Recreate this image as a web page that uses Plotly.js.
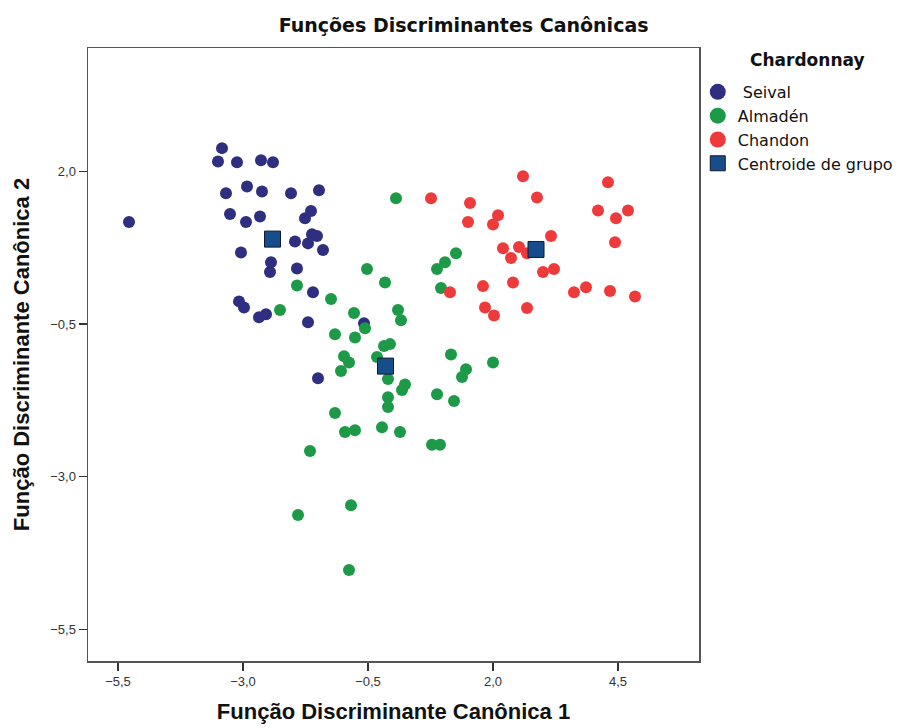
<!DOCTYPE html>
<html>
<head>
<meta charset="utf-8">
<script src="https://cdn.plot.ly/plotly-3.0.1.min.js"></script>
<style>html,body{margin:0;padding:0;background:#fff;}#chart{width:902px;height:728px;}</style>
</head>
<body>
<div id="chart"></div>
<script>
// Seival group scores (Função 1, Função 2)
const seivalX = [-3.42,-3.50,-3.12,-2.64,-2.40,-3.34,-2.92,-2.62,-2.04,-1.48,-5.28,-3.26,-2.94,-2.66,-1.64,-1.76,-1.96,-1.70,-1.62,-1.52,-1.40,-3.04,-2.44,-2.46,-1.92,-1.60,-3.08,-2.98,-2.68,-2.54,-1.70,-0.58,-1.50];
const seivalY = [2.38,2.16,2.15,2.18,2.15,1.64,1.75,1.67,1.64,1.69,1.17,1.30,1.17,1.26,1.35,1.23,0.85,0.82,0.97,0.94,0.71,0.67,0.51,0.35,0.41,0.02,-0.13,-0.23,-0.39,-0.34,-0.47,-0.49,-1.39];
// Almadén group scores
const almadenX = [0.06,-0.52,-0.16,-1.92,-1.24,-2.26,-0.78,-0.56,-1.16,-0.76,0.10,0.16,-0.18,-0.06,-0.98,-0.88,-1.04,-0.32,-0.10,0.24,0.18,-0.10,-0.10,0.88,1.22,1.16,1.46,1.38,2.00,-1.16,-0.96,-0.76,-0.22,0.14,0.78,0.94,-1.66,-0.84,-1.90,-0.88,1.26,1.04,0.88,0.96];
const almadenY = [1.56,0.40,0.18,0.13,-0.09,-0.27,-0.32,-0.57,-0.67,-0.72,-0.27,-0.44,-0.86,-0.83,-1.03,-1.13,-1.27,-1.04,-1.40,-1.49,-1.58,-1.70,-1.86,-1.65,-1.76,-1.00,-1.24,-1.37,-1.13,-1.96,-2.27,-2.24,-2.19,-2.27,-2.48,-2.48,-2.58,-3.47,-3.63,-4.53,0.66,0.51,0.40,0.09];
// Chandon group scores
const chandonX = [2.60,4.30,0.76,2.88,1.54,4.10,4.70,4.46,2.10,2.00,1.50,3.16,4.44,2.20,2.52,2.68,2.36,3.00,3.22,2.40,1.80,1.14,3.62,3.86,4.34,4.84,1.84,2.02,2.68];
const chandonY = [1.92,1.82,1.56,1.57,1.48,1.36,1.36,1.23,1.28,1.13,1.17,0.94,0.84,0.74,0.76,0.66,0.58,0.35,0.40,0.18,0.12,0.02,0.02,0.10,0.04,-0.05,-0.23,-0.36,-0.24];
// Group centroids (Seival, Almadén, Chandon)
const centroidX = [-2.41,-0.15,2.86];
const centroidY = [0.89,-1.19,0.72];
const tickVals = [-5.5,-3.0,-0.5,2.0,4.5];
const groupNames = ['\u00a0Seival', 'Almadén', 'Chandon', 'Centroide de grupo'];
const groupColors = ['#2f2f82', '#1d9a48', '#ef3a3c', '#174d8a'];

const ptSize = 12;
const traces = [
  {x: seivalX, y: seivalY, name: groupNames[0], mode: 'markers', type: 'scatter', showlegend: false,
   marker: {color: groupColors[0], size: ptSize}},
  {x: almadenX, y: almadenY, name: groupNames[1], mode: 'markers', type: 'scatter', showlegend: false,
   marker: {color: groupColors[1], size: ptSize}},
  {x: chandonX, y: chandonY, name: groupNames[2], mode: 'markers', type: 'scatter', showlegend: false,
   marker: {color: groupColors[2], size: ptSize}},
  {x: centroidX, y: centroidY, name: groupNames[3], mode: 'markers', type: 'scatter', showlegend: false,
   marker: {color: groupColors[3], size: 16, symbol: 'square', line: {color: '#111833', width: 1}}}
];
// legend entries (bigger symbols, as in the reference legend)
groupNames.forEach((n, i) => {
  const isCentroid = i === 3;
  traces.push({x: [null], y: [null], name: n, mode: 'markers', type: 'scatter', showlegend: true,
    marker: {color: groupColors[i], size: isCentroid ? 15 : 18, symbol: isCentroid ? 'square' : 'circle',
             line: isCentroid ? {color: '#111833', width: 1} : {width: 0}}});
});

const axisFont = {family: 'Liberation Sans, Arial, sans-serif', size: 13, color: '#333'};
const titleFont = {family: 'Liberation Sans, Arial, sans-serif', size: 22, color: '#111', weight: 'bold'};
const layout = {
  width: 902, height: 728,
  margin: {l: 88, r: 203, t: 48, b: 67, pad: 0, autoexpand: false},
  paper_bgcolor: '#ffffff', plot_bgcolor: '#ffffff',
  separators: ',.',
  showlegend: true,
  title: {text: 'Funções Discriminantes Canônicas', x: 0.514, xanchor: 'center', y: 0.965, yanchor: 'middle',
          font: {family: 'DejaVu Sans, sans-serif', size: 19, color: '#111', weight: 'bold'}},
  xaxis: {range: [-6.1, 6.12], tickvals: tickVals, tickformat: '.1f', ticks: 'outside', ticklen: 8, tickwidth: 1.2,
          tickcolor: '#333', showgrid: false, zeroline: false, showline: true, mirror: true,
          linecolor: '#555', linewidth: 1.5, tickfont: axisFont,
          title: {text: 'Função Discriminante Canônica 1', standoff: 15, font: titleFont}},
  yaxis: {range: [-6.02, 4.02], tickvals: tickVals, tickformat: '.1f', ticks: 'outside', ticklen: 8, tickwidth: 1.2,
          tickcolor: '#333', showgrid: false, zeroline: false, showline: true, mirror: true,
          linecolor: '#555', linewidth: 1.5, tickfont: axisFont,
          title: {text: 'Função Discriminante Canônica 2', standoff: 14, font: titleFont}},
  legend: {x: 0.998, y: 0.956, xanchor: 'left', yanchor: 'top', bgcolor: 'rgba(0,0,0,0)',
           tracegroupgap: 0, itemwidth: 30,
           font: {family: 'DejaVu Sans, sans-serif', size: 16, color: '#111'}},
  annotations: [{text: 'Chardonnay', xref: 'paper', yref: 'paper', x: 1.177, y: 0.98,
                 xanchor: 'center', yanchor: 'middle', showarrow: false,
                 font: {family: 'DejaVu Sans, sans-serif', size: 17, color: '#111', weight: 'bold'}}]
};

Plotly.newPlot('chart', traces, layout, {displayModeBar: false, staticPlot: true});
</script>
</body>
</html>
